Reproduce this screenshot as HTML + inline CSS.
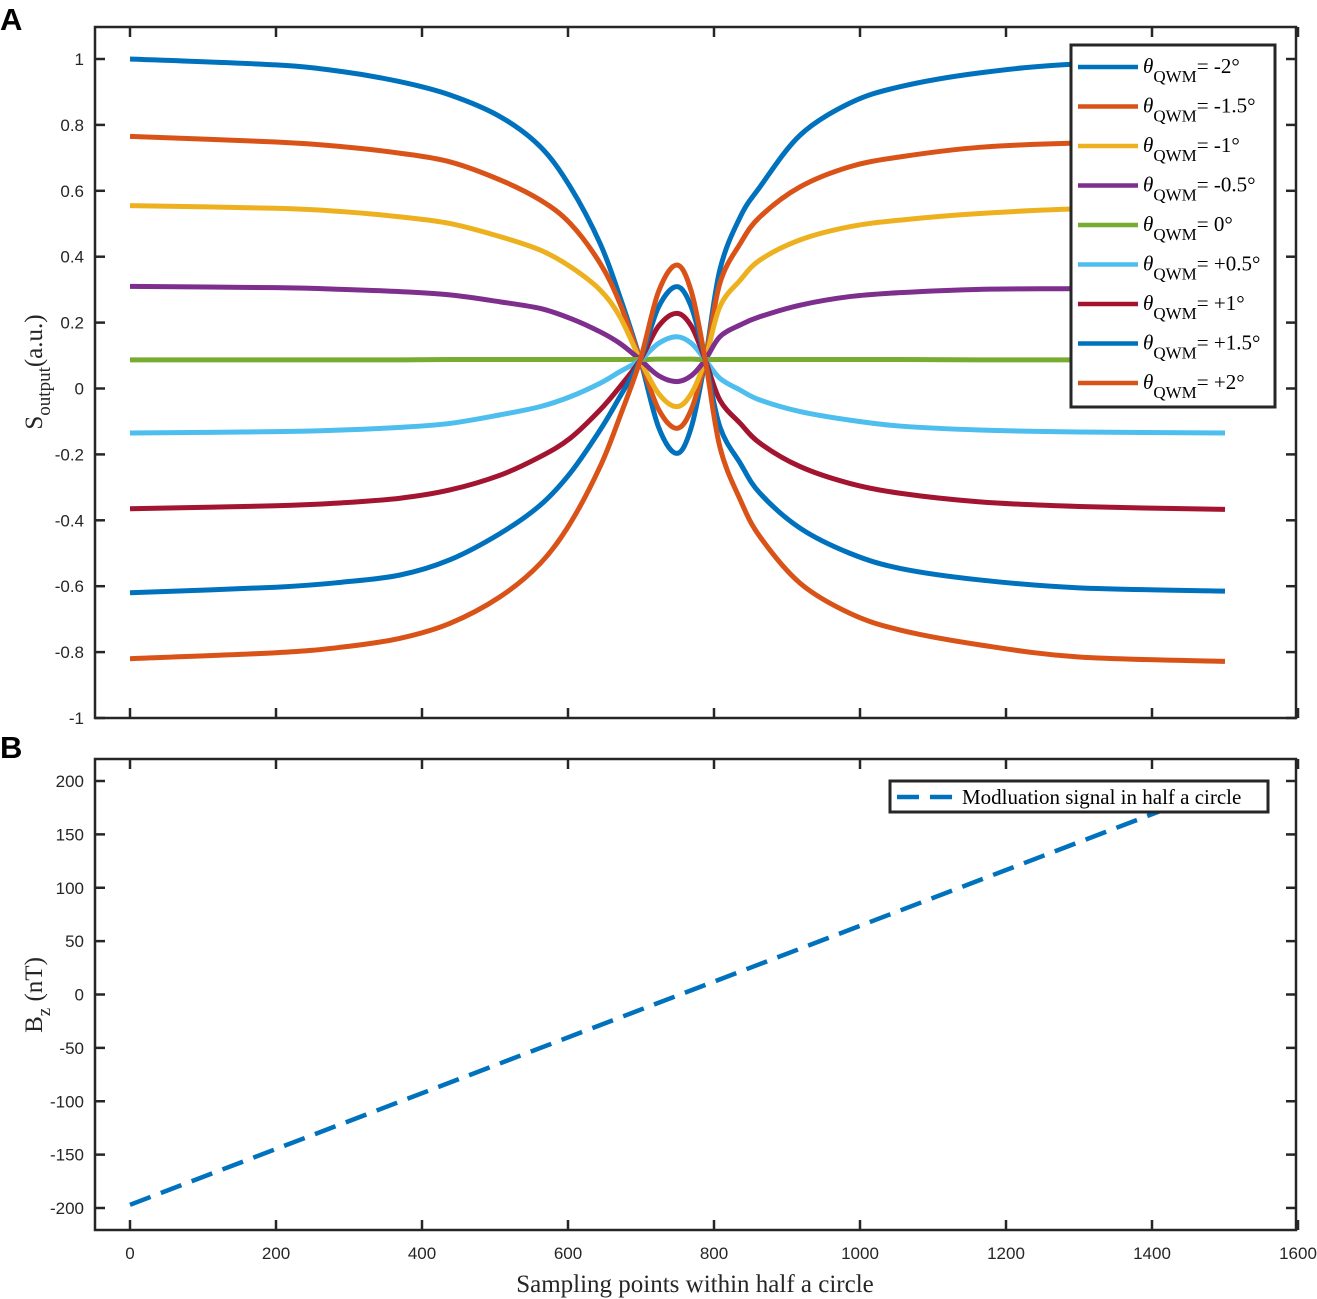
<!DOCTYPE html>
<html><head><meta charset="utf-8">
<style>
html,body{margin:0;padding:0;background:#fff;}
svg{display:block;}
.tk{font-family:"Liberation Sans",Arial,sans-serif;font-size:17px;fill:#262626;}
.lab{font-family:"Liberation Serif","Times New Roman",serif;font-size:25px;fill:#262626;}
.leg{font-family:"Liberation Serif","Times New Roman",serif;font-size:21px;fill:#000;}
</style></head>
<body>
<svg id="chart" width="1317" height="1299" viewBox="0 0 1317 1299" xmlns="http://www.w3.org/2000/svg">
<defs><clipPath id="clipB"><rect x="95" y="759" width="1201" height="471"/></clipPath></defs>
<text x="0" y="30" font-family="Liberation Sans,Arial,sans-serif" font-weight="bold" font-size="31">A</text>
<text x="0" y="758" font-family="Liberation Sans,Arial,sans-serif" font-weight="bold" font-size="31">B</text>
<g id="pa"></g>
<g id="pb"></g>
</svg>
<script>
const xSamples = [0,200,290,370,438,507,562,603,644,671,699,724,749,769,788,808,836,863,918,986,1055,1164,1300,1500];
const seriesLabels = ['-2°','-1.5°','-1°','-0.5°','0°','+0.5°','+1°','+1.5°','+2°'];
const seriesColors = ['#0072BD','#D95319','#EDB120','#7E2F8E','#77AC30','#4DBEEE','#A2142F','#0072BD','#D95319'];
const sM20 = [1.0,0.982,0.962,0.931,0.891,0.825,0.734,0.612,0.44,0.279,0.087,-0.117,-0.197,-0.117,0.087,0.36,0.521,0.612,0.769,0.866,0.916,0.958,0.985,0.99];
const sM15 = [0.765,0.748,0.734,0.714,0.688,0.633,0.572,0.501,0.38,0.259,0.087,-0.063,-0.121,-0.063,0.087,0.319,0.44,0.521,0.612,0.673,0.703,0.732,0.745,0.75];
const sM10 = [0.555,0.547,0.537,0.521,0.501,0.461,0.42,0.37,0.299,0.218,0.087,-0.015,-0.055,-0.015,0.087,0.248,0.329,0.39,0.451,0.491,0.511,0.531,0.545,0.548];
const sM05 = [0.31,0.306,0.301,0.294,0.284,0.263,0.243,0.213,0.172,0.137,0.087,0.039,0.021,0.039,0.087,0.157,0.193,0.218,0.253,0.279,0.291,0.301,0.303,0.305];
const sZ00 = [0.087,0.087,0.087,0.087,0.088,0.088,0.088,0.088,0.088,0.088,0.088,0.089,0.089,0.089,0.088,0.088,0.088,0.088,0.088,0.088,0.088,0.087,0.087,0.087];
const sP05 = [-0.135,-0.131,-0.126,-0.118,-0.106,-0.08,-0.055,-0.025,0.016,0.051,0.087,0.137,0.157,0.137,0.087,0.031,-0.005,-0.035,-0.07,-0.096,-0.114,-0.126,-0.132,-0.135];
const sP10 = [-0.365,-0.356,-0.347,-0.333,-0.308,-0.263,-0.207,-0.151,-0.065,0.005,0.087,0.189,0.228,0.189,0.087,-0.035,-0.106,-0.166,-0.237,-0.288,-0.318,-0.344,-0.358,-0.367];
const sP15 = [-0.62,-0.603,-0.588,-0.566,-0.52,-0.44,-0.354,-0.257,-0.126,-0.025,0.087,0.247,0.309,0.247,0.087,-0.116,-0.227,-0.318,-0.424,-0.5,-0.546,-0.581,-0.605,-0.615];
const sP20 = [-0.82,-0.802,-0.785,-0.758,-0.713,-0.632,-0.531,-0.409,-0.237,-0.086,0.087,0.294,0.375,0.294,0.087,-0.177,-0.338,-0.45,-0.591,-0.682,-0.733,-0.778,-0.815,-0.828];
const allSeries = [sM20,sM15,sM10,sM05,sZ00,sP05,sP10,sP15,sP20];
const yTicksA = [1,0.8,0.6,0.4,0.2,0,-0.2,-0.4,-0.6,-0.8,-1];
const yTickLabelsA = ['1','0.8','0.6','0.4','0.2','0','-0.2','-0.4','-0.6','-0.8','-1'];
const xTicks = [0,200,400,600,800,1000,1200,1400,1600];
const bX = [0,1500];
const bY = [-197,195];
const yTicksB = [200,150,100,50,0,-50,-100,-150,-200];

const NS='http://www.w3.org/2000/svg';
function mk(tag,attrs,parent){const e=document.createElementNS(NS,tag);for(const k in attrs)e.setAttribute(k,attrs[k]);parent.appendChild(e);return e;}
const L=95,R=1296;
const xS=v=>130+(v)*(1168/1600);
const yA=v=>388.5-v*329.5;
const yB=v=>994.5-v*1.0675;
const AT=27,AB=718,BT=759,BB=1230;

function smoothPath(pts){
  let d='M'+pts[0][0].toFixed(2)+','+pts[0][1].toFixed(2);
  for(let i=0;i<pts.length-1;i++){
    const p0=pts[Math.max(0,i-1)],p1=pts[i],p2=pts[i+1],p3=pts[Math.min(pts.length-1,i+2)];
    const c1=[p1[0]+(p2[0]-p0[0])/6,p1[1]+(p2[1]-p0[1])/6];
    const c2=[p2[0]-(p3[0]-p1[0])/6,p2[1]-(p3[1]-p1[1])/6];
    d+=' C'+c1[0].toFixed(2)+','+c1[1].toFixed(2)+' '+c2[0].toFixed(2)+','+c2[1].toFixed(2)+' '+p2[0].toFixed(2)+','+p2[1].toFixed(2);
  }
  return d;
}

// Panel A
const pa=document.getElementById('pa');
for(let s=0;s<allSeries.length;s++){
  const pts=xSamples.map((x,i)=>[xS(x),yA(allSeries[s][i])]);
  const p=mk('path',{d:smoothPath(pts),fill:'none',stroke:seriesColors[s],'stroke-width':5,'stroke-linejoin':'round'},pa);
  
  
}
const boxA=mk('rect',{x:L,y:AT,width:R-L,height:AB-AT,fill:'none',stroke:'#262626','stroke-width':2.5},pa);


yTicksA.forEach((v,i)=>{
  const y=yA(v);
  mk('line',{x1:L,x2:L+10,y1:y,y2:y,stroke:'#262626','stroke-width':2.5},pa);
  mk('line',{x1:R,x2:R-10,y1:y,y2:y,stroke:'#262626','stroke-width':2.5},pa);
  const t=mk('text',{x:L-11,y:y+6,'text-anchor':'end',class:'tk'},pa);
  t.textContent=yTickLabelsA[i];
  
  
});
xTicks.forEach(v=>{
  const x=xS(v);
  mk('line',{x1:x,x2:x,y1:AB,y2:AB-10,stroke:'#262626','stroke-width':2.5},pa);
  mk('line',{x1:x,x2:x,y1:AT,y2:AT+10,stroke:'#262626','stroke-width':2.5},pa);
});
const yla=mk('text',{transform:'translate(42,372) rotate(-90)','text-anchor':'middle',class:'lab'},pa);
yla.innerHTML='S<tspan dy="8" font-size="19">output</tspan><tspan dy="-8">(a.u.)</tspan>';


// legend A
const lg=mk('g',{},pa);


mk('rect',{x:1071,y:45,width:204,height:362,fill:'#fff',stroke:'#262626','stroke-width':3},lg);
seriesLabels.forEach((lab,i)=>{
  const y=67+i*39.5;
  const g=mk('g',{},lg);
  
  
  mk('line',{x1:1078,x2:1138,y1:y,y2:y,stroke:seriesColors[i],'stroke-width':4.5},g);
  const t=mk('text',{x:1143,y:y+6,class:'leg'},g);
  t.innerHTML='<tspan font-style="italic">θ</tspan><tspan dy="9" font-size="17">QWM</tspan><tspan dy="-9">= '+lab+'</tspan>';
});

// Panel B
const pb=document.getElementById('pb');
const lineB=mk('path',{d:'M'+xS(bX[0])+','+yB(bY[0])+' L'+xS(bX[1])+','+yB(bY[1]),fill:'none',stroke:'#0072BD','stroke-width':4.5,'stroke-dasharray':'22,11','clip-path':'url(#clipB)'},pb);


const boxB=mk('rect',{x:L,y:BT,width:R-L,height:BB-BT,fill:'none',stroke:'#262626','stroke-width':2.5},pb);


yTicksB.forEach(v=>{
  const y=yB(v);
  mk('line',{x1:L,x2:L+10,y1:y,y2:y,stroke:'#262626','stroke-width':2.5},pb);
  mk('line',{x1:R,x2:R-10,y1:y,y2:y,stroke:'#262626','stroke-width':2.5},pb);
  const t=mk('text',{x:L-11,y:y+6,'text-anchor':'end',class:'tk'},pb);
  t.textContent=String(v);
  
  
});
xTicks.forEach(v=>{
  const x=xS(v);
  mk('line',{x1:x,x2:x,y1:BB,y2:BB-10,stroke:'#262626','stroke-width':2.5},pb);
  mk('line',{x1:x,x2:x,y1:BT,y2:BT+10,stroke:'#262626','stroke-width':2.5},pb);
  const t=mk('text',{x:x,y:1259,'text-anchor':'middle',class:'tk'},pb);
  t.textContent=String(v);
  
  
});
const ylb=mk('text',{transform:'translate(42,995) rotate(-90)','text-anchor':'middle',class:'lab'},pb);
ylb.innerHTML='B<tspan dy="8" font-size="19">z</tspan><tspan dy="-8"> (nT)</tspan>';


const xl=mk('text',{x:695,y:1292,'text-anchor':'middle',class:'lab'},pb);
xl.textContent='Sampling points within half a circle';


const lgb=mk('g',{},pb);


mk('rect',{x:890,y:781,width:378,height:31,fill:'#fff',stroke:'#262626','stroke-width':3},lgb);
mk('line',{x1:897,x2:957,y1:797,y2:797,stroke:'#0072BD','stroke-width':4.5,'stroke-dasharray':'22,11'},lgb);
const lt=mk('text',{x:962,y:804,class:'leg'},lgb);
lt.textContent='Modluation signal in half a circle';
</script>
</body></html>
